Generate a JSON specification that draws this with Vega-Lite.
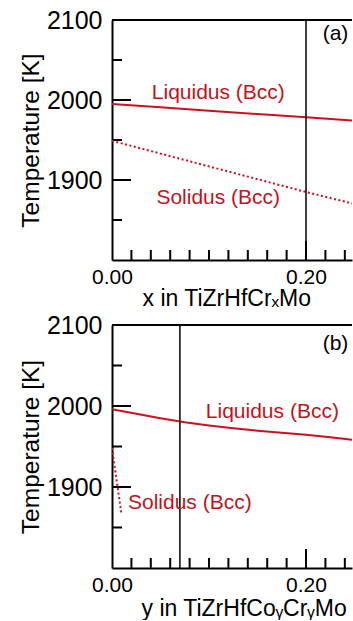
{
  "$schema": "https://vega.github.io/schema/vega-lite/v6.json",
  "padding": {"left": 18, "top": 8, "right": 0, "bottom": 0},
  "spacing": 3,
  "config": {
    "view": {"stroke": null},
    "font": "Liberation Sans",
    "axis": {
      "domainColor": "#000000",
      "domainWidth": 2,
      "ticks": false,
      "grid": false,
      "labelColor": "#000000",
      "titleColor": "#000000",
      "titleFontWeight": "normal",
      "labelFont": "Liberation Sans",
      "titleFont": "Liberation Sans"
    }
  },
  "datasets": {
    "a": [
      {"kind": "liq", "x": 0.0, "T": 1995},
      {"kind": "liq", "x": 0.05, "T": 1991},
      {"kind": "liq", "x": 0.1, "T": 1986.7},
      {"kind": "liq", "x": 0.15, "T": 1982.5},
      {"kind": "liq", "x": 0.2, "T": 1978.3},
      {"kind": "liq", "x": 0.25, "T": 1974},
      {"kind": "sol", "x": 0.0, "T": 1949},
      {"kind": "sol", "x": 0.05, "T": 1933},
      {"kind": "sol", "x": 0.1, "T": 1917},
      {"kind": "sol", "x": 0.15, "T": 1901},
      {"kind": "sol", "x": 0.2, "T": 1885},
      {"kind": "sol", "x": 0.25, "T": 1870},
      {"kind": "label", "x": 0.1096, "T": 2009, "text": "Liquidus (Bcc)"},
      {"kind": "label", "x": 0.1095, "T": 1877, "text": "Solidus (Bcc)"},
      {"kind": "tag", "x": 0.2304, "T": 2082.5, "text": "(a)"},
      {"kind": "vline", "x": 0.2, "T": 1800, "T2": 2100},
      {"kind": "xminor", "x": 0.02, "T": 1800},
      {"kind": "xminor", "x": 0.04, "T": 1800},
      {"kind": "xminor", "x": 0.06, "T": 1800},
      {"kind": "xminor", "x": 0.08, "T": 1800},
      {"kind": "xminor", "x": 0.1, "T": 1800},
      {"kind": "xminor", "x": 0.12, "T": 1800},
      {"kind": "xminor", "x": 0.14, "T": 1800},
      {"kind": "xminor", "x": 0.16, "T": 1800},
      {"kind": "xminor", "x": 0.18, "T": 1800},
      {"kind": "xminor", "x": 0.22, "T": 1800},
      {"kind": "xminor", "x": 0.24, "T": 1800},
      {"kind": "xmajor", "x": 0.2, "T": 1800},
      {"kind": "yminor", "x": 0, "T": 1850},
      {"kind": "yminor", "x": 0, "T": 1950},
      {"kind": "yminor", "x": 0, "T": 2050},
      {"kind": "ymajor", "x": 0, "T": 1900},
      {"kind": "ymajor", "x": 0, "T": 2000}
    ],
    "b": [
      {"kind": "liq", "x": 0.0, "T": 1996},
      {"kind": "liq", "x": 0.025, "T": 1990.5},
      {"kind": "liq", "x": 0.05, "T": 1985},
      {"kind": "liq", "x": 0.075, "T": 1980},
      {"kind": "liq", "x": 0.1, "T": 1976},
      {"kind": "liq", "x": 0.125, "T": 1972.5},
      {"kind": "liq", "x": 0.15, "T": 1969.5},
      {"kind": "liq", "x": 0.175, "T": 1967},
      {"kind": "liq", "x": 0.2, "T": 1964.5},
      {"kind": "liq", "x": 0.225, "T": 1961.5},
      {"kind": "liq", "x": 0.25, "T": 1958},
      {"kind": "sol", "x": 0.0, "T": 1948},
      {"kind": "sol", "x": 0.0096, "T": 1868},
      {"kind": "label", "x": 0.1653, "T": 1993, "text": "Liquidus (Bcc)"},
      {"kind": "label", "x": 0.0802, "T": 1880, "text": "Solidus (Bcc)"},
      {"kind": "tag", "x": 0.2304, "T": 2077, "text": "(b)"},
      {"kind": "vline", "x": 0.07, "T": 1800, "T2": 2100},
      {"kind": "xminor", "x": 0.02, "T": 1800},
      {"kind": "xminor", "x": 0.04, "T": 1800},
      {"kind": "xminor", "x": 0.06, "T": 1800},
      {"kind": "xminor", "x": 0.08, "T": 1800},
      {"kind": "xminor", "x": 0.1, "T": 1800},
      {"kind": "xminor", "x": 0.12, "T": 1800},
      {"kind": "xminor", "x": 0.14, "T": 1800},
      {"kind": "xminor", "x": 0.16, "T": 1800},
      {"kind": "xminor", "x": 0.18, "T": 1800},
      {"kind": "xminor", "x": 0.22, "T": 1800},
      {"kind": "xminor", "x": 0.24, "T": 1800},
      {"kind": "xmajor", "x": 0.2, "T": 1800},
      {"kind": "yminor", "x": 0, "T": 1850},
      {"kind": "yminor", "x": 0, "T": 1950},
      {"kind": "yminor", "x": 0, "T": 2050},
      {"kind": "ymajor", "x": 0, "T": 1900},
      {"kind": "ymajor", "x": 0, "T": 2000}
    ]
  },
  "vconcat": [
    {
      "width": 240,
      "height": 240,
      "data": {"name": "a"},
      "encoding": {
        "x": {
          "field": "x", "type": "quantitative",
          "scale": {"domain": [0, 0.2474], "nice": false, "zero": false},
          "axis": {
            "title": "x in TiZrHfCrₓMo",
            "titleFontSize": 23,
            "titleAnchor": "start",
            "titleX": 30,
            "titlePadding": 0,
            "values": [0, 0.2],
            "format": ".2f",
            "labelFontSize": 21,
            "labelPadding": 6,
            "labelFlush": false,
            "labelOverlap": false
          }
        },
        "y": {
          "field": "T", "type": "quantitative",
          "scale": {"domain": [1800, 2100], "nice": false, "zero": false},
          "axis": {
            "title": "Temperature [K]",
            "titleFontSize": 24.5,
            "titlePadding": 3,
            "values": [1900, 2000, 2100],
            "format": "d",
            "labelFontSize": 25,
            "labelPadding": 10,
            "labelFlush": false,
            "labelOverlap": false
          }
        }
      },
      "layer": [
        {"transform": [{"filter": "datum.kind == 'xminor'"}], "mark": {"type": "rule", "color": "#000000", "strokeWidth": 2}, "encoding": {"y2": {"datum": 1812.5}}},
        {"transform": [{"filter": "datum.kind == 'xmajor'"}], "mark": {"type": "rule", "color": "#000000", "strokeWidth": 2}, "encoding": {"y2": {"datum": 1823.75}}},
        {"transform": [{"filter": "datum.kind == 'yminor'"}], "mark": {"type": "rule", "color": "#000000", "strokeWidth": 2}, "encoding": {"x2": {"datum": 0.0103}}},
        {"transform": [{"filter": "datum.kind == 'ymajor'"}], "mark": {"type": "rule", "color": "#000000", "strokeWidth": 2}, "encoding": {"x2": {"datum": 0.0196}}},
        {"transform": [{"filter": "datum.kind == 'liq'"}], "mark": {"type": "line", "color": "#cc1020", "strokeWidth": 2, "clip": true}},
        {"transform": [{"filter": "datum.kind == 'sol'"}], "mark": {"type": "line", "color": "#cc1020", "strokeWidth": 2, "strokeDash": [2, 2.5], "clip": true}},
        {"transform": [{"filter": "datum.kind == 'vline'"}], "mark": {"type": "rule", "color": "#000000", "strokeWidth": 1.5}, "encoding": {"y2": {"field": "T2"}}},
        {"mark": {"type": "rule", "color": "#000000", "strokeWidth": 2}, "encoding": {"y": {"datum": 2100}, "x": {"datum": 0}, "x2": {"datum": 0.2474}}},
        {"transform": [{"filter": "datum.kind == 'label'"}], "mark": {"type": "text", "color": "#c0141e", "fontSize": 21, "align": "center", "baseline": "middle"}, "encoding": {"text": {"field": "text"}}},
        {"transform": [{"filter": "datum.kind == 'tag'"}], "mark": {"type": "text", "color": "#000000", "fontSize": 21, "align": "center", "baseline": "middle"}, "encoding": {"text": {"field": "text"}}}
      ]
    },
    {
      "width": 240,
      "height": 243,
      "data": {"name": "b"},
      "encoding": {
        "x": {
          "field": "x", "type": "quantitative",
          "scale": {"domain": [0, 0.2474], "nice": false, "zero": false},
          "axis": {
            "title": "y in TiZrHfCoᵧCrᵧMo",
            "titleFontSize": 23,
            "titleAnchor": "start",
            "titleX": 29,
            "titlePadding": 2,
            "values": [0, 0.2],
            "format": ".2f",
            "labelFontSize": 21,
            "labelPadding": 6,
            "labelFlush": false,
            "labelOverlap": false
          }
        },
        "y": {
          "field": "T", "type": "quantitative",
          "scale": {"domain": [1800, 2100], "nice": false, "zero": false},
          "axis": {
            "title": "Temperature [K]",
            "titleFontSize": 24.5,
            "titlePadding": 3,
            "values": [1900, 2000, 2100],
            "format": "d",
            "labelFontSize": 25,
            "labelPadding": 10,
            "labelFlush": false,
            "labelOverlap": false
          }
        }
      },
      "layer": [
        {"transform": [{"filter": "datum.kind == 'xminor'"}], "mark": {"type": "rule", "color": "#000000", "strokeWidth": 2}, "encoding": {"y2": {"datum": 1812.3}}},
        {"transform": [{"filter": "datum.kind == 'xmajor'"}], "mark": {"type": "rule", "color": "#000000", "strokeWidth": 2}, "encoding": {"y2": {"datum": 1823.5}}},
        {"transform": [{"filter": "datum.kind == 'yminor'"}], "mark": {"type": "rule", "color": "#000000", "strokeWidth": 2}, "encoding": {"x2": {"datum": 0.0103}}},
        {"transform": [{"filter": "datum.kind == 'ymajor'"}], "mark": {"type": "rule", "color": "#000000", "strokeWidth": 2}, "encoding": {"x2": {"datum": 0.0196}}},
        {"transform": [{"filter": "datum.kind == 'liq'"}], "mark": {"type": "line", "color": "#cc1020", "strokeWidth": 2, "clip": true}},
        {"transform": [{"filter": "datum.kind == 'sol'"}], "mark": {"type": "line", "color": "#cc1020", "strokeWidth": 2, "strokeDash": [2, 2.5], "clip": true}},
        {"transform": [{"filter": "datum.kind == 'vline'"}], "mark": {"type": "rule", "color": "#000000", "strokeWidth": 1.5}, "encoding": {"y2": {"field": "T2"}}},
        {"mark": {"type": "rule", "color": "#000000", "strokeWidth": 2}, "encoding": {"y": {"datum": 2100}, "x": {"datum": 0}, "x2": {"datum": 0.2474}}},
        {"transform": [{"filter": "datum.kind == 'label'"}], "mark": {"type": "text", "color": "#c0141e", "fontSize": 21, "align": "center", "baseline": "middle"}, "encoding": {"text": {"field": "text"}}},
        {"transform": [{"filter": "datum.kind == 'tag'"}], "mark": {"type": "text", "color": "#000000", "fontSize": 21, "align": "center", "baseline": "middle"}, "encoding": {"text": {"field": "text"}}}
      ]
    }
  ]
}
